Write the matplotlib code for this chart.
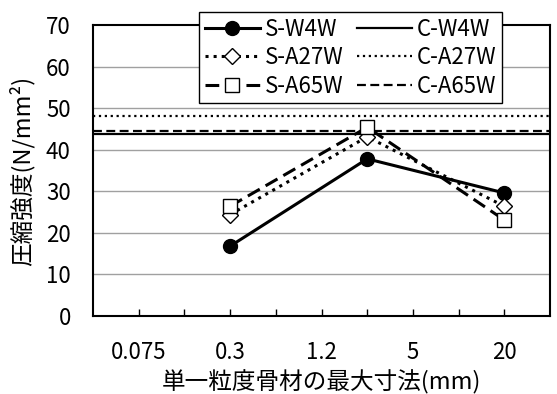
import numpy as np
import matplotlib.pyplot as plt

plt.rcParams['font.family'] = ['Noto Sans CJK JP', 'DejaVu Sans']

# カテゴリ位置（0.075, 0.3, 1.2, 5, 20 のラベルは奇数目盛）
tick_pos = [1, 3, 5, 7, 9]
tick_labels = ['0.075', '0.3', '1.2', '5', '20']
x_pos = [3, 6, 9]

s_w4w = [16.8, 37.8, 29.6]
s_a27w = [24.4, 43.1, 26.4]
s_a65w = [26.4, 45.4, 23.1]

c_w4w = 43.9
c_a27w = 48.1
c_a65w = 44.6

fig = plt.figure(figsize=(5.57, 3.94), dpi=100)
ax = fig.add_axes([93/557, 1-316/394, 457/557, 291/394])

for y in range(10, 70, 10):
    ax.axhline(y, color='#a0a0a0', lw=1, zorder=0)

l1, = ax.plot(x_pos, s_w4w, '-o', color='black', lw=2.2, ms=10, label='S-W4W', zorder=3)
l2, = ax.plot(x_pos, s_a27w, ':D', color='black', lw=2.2, ms=8.5,
              mfc='white', mec='black', mew=1, label='S-A27W', zorder=3)
l3, = ax.plot(x_pos, s_a65w, '--s', color='black', lw=2.2, ms=10,
              mfc='white', mec='black', mew=1, dashes=(4.5, 2.2), label='S-A65W', zorder=3)
h1 = ax.axhline(c_w4w, color='black', lw=1.6, label='C-W4W')
h2 = ax.axhline(c_a27w, color='black', lw=1.6, ls=':', label='C-A27W')
h3 = ax.axhline(c_a65w, color='black', lw=1.6, ls='--', dashes=(4, 2), label='C-A65W')

ax.set_xlim(0, 10)
ax.set_ylim(0, 70)
ax.set_yticks(range(0, 80, 10))
ax.set_xticks(tick_pos)
ax.set_xticklabels(tick_labels)
ax.set_xticks(range(1, 10), minor=True)
ax.tick_params(axis='x', which='both', direction='in', length=5, width=1, pad=18, labelsize=16)
ax.tick_params(axis='y', length=0, pad=16, labelsize=16)
for s in ax.spines.values():
    s.set_linewidth(1.5)

ax.set_xlabel('単一粒度骨材の最大寸法(mm)', fontsize=17, labelpad=4)
ax.set_ylabel('圧縮強度(N/mm²)', fontsize=17, labelpad=8)

leg = fig.legend(handles=[l1, l2, l3, h1, h2, h3], ncol=2, loc='upper left',
                 bbox_to_anchor=(199/557, 1-12/394), fontsize=16, frameon=True,
                 fancybox=False, edgecolor='black', framealpha=1,
                 handlelength=2.5, handletextpad=0.2, columnspacing=0.6,
                 labelspacing=0.25, borderpad=0.25, borderaxespad=0)
leg.get_frame().set_linewidth(1)

fig.savefig('out.png', dpi=100)
